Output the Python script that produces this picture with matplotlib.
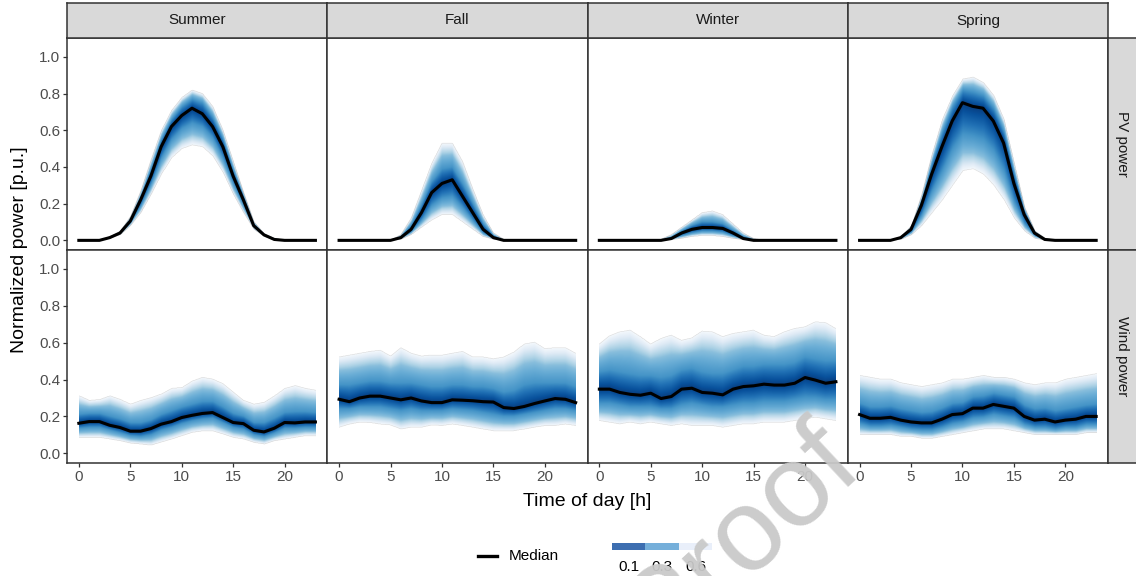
import matplotlib
matplotlib.use("Agg")
import matplotlib.pyplot as plt
import numpy as np

plt.rcParams['font.family'] = ['Liberation Sans', 'DejaVu Sans']

hours = list(range(24))
seasons = ["Summer", "Fall", "Winter", "Spring"]
rows = ["PV power", "Wind power"]
y_ticks = [0.0, 0.2, 0.4, 0.6, 0.8, 1.0]
x_ticks = [0, 5, 10, 15, 20]
legend_levels = ["0.1", "0.3", "0.6"]
quantile_levels = [0.05, 0.25, 0.5, 0.75, 0.95]

# ---------------- PV power ----------------
pv_summer_med = [0, 0, 0, 0.015, 0.04, 0.105, 0.22, 0.35, 0.51, 0.62, 0.68, 0.72, 0.69, 0.62, 0.51, 0.35, 0.22, 0.08, 0.03, 0.005, 0, 0, 0, 0]
pv_summer_hi = [0, 0, 0, 0.02, 0.05, 0.13, 0.27, 0.44, 0.60, 0.71, 0.78, 0.82, 0.80, 0.73, 0.60, 0.43, 0.26, 0.10, 0.035, 0.01, 0, 0, 0, 0]
pv_summer_q75 = [0, 0, 0, 0.017, 0.045, 0.115, 0.24, 0.39, 0.55, 0.66, 0.73, 0.77, 0.75, 0.67, 0.55, 0.38, 0.24, 0.09, 0.032, 0.007, 0, 0, 0, 0]
pv_summer_q25 = [0, 0, 0, 0.013, 0.035, 0.095, 0.19, 0.31, 0.45, 0.55, 0.61, 0.64, 0.62, 0.56, 0.45, 0.31, 0.19, 0.07, 0.025, 0.003, 0, 0, 0, 0]
pv_summer_lo = [0, 0, 0, 0.01, 0.03, 0.08, 0.15, 0.25, 0.36, 0.45, 0.50, 0.52, 0.51, 0.46, 0.37, 0.25, 0.15, 0.06, 0.02, 0, 0, 0, 0, 0]

pv_fall_med = [0, 0, 0, 0, 0, 0, 0.015, 0.06, 0.15, 0.26, 0.31, 0.33, 0.24, 0.15, 0.06, 0.015, 0, 0, 0, 0, 0, 0, 0, 0]
pv_fall_hi = [0, 0, 0, 0, 0, 0, 0.03, 0.12, 0.27, 0.42, 0.53, 0.53, 0.43, 0.28, 0.14, 0.04, 0.005, 0, 0, 0, 0, 0, 0, 0]
pv_fall_q75 = [0, 0, 0, 0, 0, 0, 0.02, 0.08, 0.19, 0.32, 0.39, 0.40, 0.31, 0.20, 0.09, 0.025, 0, 0, 0, 0, 0, 0, 0, 0]
pv_fall_q25 = [0, 0, 0, 0, 0, 0, 0.01, 0.045, 0.11, 0.19, 0.23, 0.24, 0.18, 0.11, 0.04, 0.01, 0, 0, 0, 0, 0, 0, 0, 0]
pv_fall_lo = [0, 0, 0, 0, 0, 0, 0.005, 0.03, 0.07, 0.11, 0.14, 0.14, 0.10, 0.06, 0.02, 0.005, 0, 0, 0, 0, 0, 0, 0, 0]

pv_winter_med = [0, 0, 0, 0, 0, 0, 0, 0.01, 0.04, 0.06, 0.07, 0.07, 0.065, 0.04, 0.01, 0, 0, 0, 0, 0, 0, 0, 0, 0]
pv_winter_hi = [0, 0, 0, 0, 0, 0, 0.005, 0.03, 0.07, 0.11, 0.15, 0.16, 0.14, 0.09, 0.04, 0.01, 0, 0, 0, 0, 0, 0, 0, 0]
pv_winter_q75 = [0, 0, 0, 0, 0, 0, 0.002, 0.015, 0.05, 0.08, 0.10, 0.10, 0.09, 0.055, 0.02, 0.003, 0, 0, 0, 0, 0, 0, 0, 0]
pv_winter_q25 = [0, 0, 0, 0, 0, 0, 0, 0.006, 0.025, 0.04, 0.05, 0.05, 0.045, 0.025, 0.006, 0, 0, 0, 0, 0, 0, 0, 0, 0]
pv_winter_lo = [0, 0, 0, 0, 0, 0, 0, 0.003, 0.01, 0.02, 0.025, 0.025, 0.02, 0.01, 0.003, 0, 0, 0, 0, 0, 0, 0, 0, 0]

pv_spring_med = [0, 0, 0, 0, 0.015, 0.06, 0.19, 0.36, 0.51, 0.65, 0.75, 0.73, 0.72, 0.65, 0.53, 0.31, 0.14, 0.04, 0.005, 0, 0, 0, 0, 0]
pv_spring_hi = [0, 0, 0, 0, 0.02, 0.08, 0.25, 0.47, 0.66, 0.79, 0.88, 0.89, 0.86, 0.79, 0.66, 0.42, 0.18, 0.05, 0.01, 0, 0, 0, 0, 0]
pv_spring_q75 = [0, 0, 0, 0, 0.017, 0.07, 0.22, 0.42, 0.59, 0.73, 0.82, 0.81, 0.79, 0.72, 0.59, 0.36, 0.16, 0.045, 0.007, 0, 0, 0, 0, 0]
pv_spring_q25 = [0, 0, 0, 0, 0.01, 0.045, 0.14, 0.27, 0.38, 0.50, 0.58, 0.57, 0.55, 0.49, 0.38, 0.21, 0.09, 0.025, 0.003, 0, 0, 0, 0, 0]
pv_spring_lo = [0, 0, 0, 0, 0.005, 0.03, 0.08, 0.15, 0.22, 0.30, 0.38, 0.39, 0.36, 0.30, 0.22, 0.12, 0.05, 0.01, 0, 0, 0, 0, 0, 0]

# ---------------- Wind power ----------------
wind_summer_med = [0.163, 0.172, 0.172, 0.152, 0.14, 0.12, 0.12, 0.134, 0.158, 0.172, 0.194, 0.206, 0.216, 0.221, 0.194, 0.167, 0.161, 0.125, 0.116, 0.136, 0.167, 0.165, 0.17, 0.17]
wind_summer_hi = [0.31, 0.285, 0.29, 0.31, 0.29, 0.265, 0.285, 0.30, 0.32, 0.35, 0.355, 0.39, 0.41, 0.40, 0.375, 0.33, 0.285, 0.265, 0.275, 0.31, 0.35, 0.365, 0.35, 0.34]
wind_summer_q75 = [0.21, 0.215, 0.215, 0.20, 0.185, 0.165, 0.165, 0.18, 0.21, 0.23, 0.25, 0.265, 0.28, 0.28, 0.25, 0.215, 0.20, 0.165, 0.165, 0.19, 0.22, 0.225, 0.225, 0.22]
wind_summer_q25 = [0.135, 0.14, 0.14, 0.125, 0.11, 0.095, 0.09, 0.10, 0.125, 0.14, 0.16, 0.175, 0.185, 0.19, 0.165, 0.14, 0.13, 0.10, 0.09, 0.11, 0.135, 0.135, 0.14, 0.14]
wind_summer_lo = [0.085, 0.085, 0.085, 0.076, 0.067, 0.054, 0.049, 0.043, 0.06, 0.076, 0.094, 0.112, 0.12, 0.12, 0.103, 0.085, 0.076, 0.058, 0.049, 0.067, 0.076, 0.085, 0.094, 0.094]

wind_fall_med = [0.293, 0.28, 0.30, 0.31, 0.31, 0.30, 0.29, 0.30, 0.284, 0.275, 0.275, 0.29, 0.288, 0.285, 0.28, 0.278, 0.248, 0.243, 0.254, 0.27, 0.284, 0.297, 0.293, 0.275]
wind_fall_hi = [0.52, 0.53, 0.54, 0.55, 0.556, 0.525, 0.57, 0.54, 0.525, 0.53, 0.53, 0.54, 0.55, 0.52, 0.52, 0.51, 0.52, 0.547, 0.59, 0.60, 0.565, 0.57, 0.57, 0.54]
wind_fall_q75 = [0.37, 0.37, 0.38, 0.39, 0.39, 0.38, 0.38, 0.38, 0.37, 0.36, 0.36, 0.37, 0.37, 0.36, 0.36, 0.35, 0.33, 0.34, 0.37, 0.38, 0.38, 0.38, 0.38, 0.36]
wind_fall_q25 = [0.24, 0.24, 0.25, 0.25, 0.25, 0.24, 0.23, 0.24, 0.23, 0.23, 0.23, 0.24, 0.235, 0.23, 0.22, 0.21, 0.20, 0.20, 0.21, 0.22, 0.23, 0.24, 0.24, 0.23]
wind_fall_lo = [0.14, 0.157, 0.167, 0.165, 0.157, 0.152, 0.13, 0.14, 0.14, 0.152, 0.149, 0.157, 0.149, 0.14, 0.13, 0.121, 0.121, 0.121, 0.13, 0.14, 0.149, 0.149, 0.157, 0.149]

wind_winter_med = [0.348, 0.348, 0.33, 0.32, 0.315, 0.326, 0.297, 0.308, 0.348, 0.353, 0.33, 0.326, 0.317, 0.348, 0.362, 0.366, 0.375, 0.37, 0.37, 0.38, 0.411, 0.397, 0.38, 0.388]
wind_winter_hi = [0.59, 0.634, 0.656, 0.665, 0.63, 0.59, 0.62, 0.638, 0.61, 0.623, 0.66, 0.656, 0.63, 0.647, 0.656, 0.665, 0.638, 0.63, 0.656, 0.674, 0.683, 0.71, 0.706, 0.674]
wind_winter_q75 = [0.44, 0.45, 0.44, 0.43, 0.42, 0.42, 0.41, 0.42, 0.45, 0.46, 0.44, 0.43, 0.43, 0.45, 0.47, 0.47, 0.48, 0.48, 0.48, 0.49, 0.52, 0.51, 0.50, 0.50]
wind_winter_q25 = [0.27, 0.27, 0.26, 0.25, 0.25, 0.25, 0.24, 0.24, 0.26, 0.27, 0.26, 0.25, 0.25, 0.26, 0.27, 0.27, 0.28, 0.28, 0.28, 0.29, 0.30, 0.30, 0.29, 0.29]
wind_winter_lo = [0.176, 0.167, 0.158, 0.167, 0.158, 0.167, 0.158, 0.149, 0.158, 0.149, 0.149, 0.149, 0.14, 0.149, 0.158, 0.158, 0.167, 0.167, 0.167, 0.176, 0.185, 0.194, 0.185, 0.176]

wind_spring_med = [0.21, 0.19, 0.19, 0.195, 0.18, 0.17, 0.165, 0.165, 0.185, 0.21, 0.215, 0.245, 0.245, 0.265, 0.255, 0.245, 0.20, 0.18, 0.185, 0.17, 0.18, 0.185, 0.20, 0.20]
wind_spring_hi = [0.42, 0.41, 0.40, 0.40, 0.38, 0.37, 0.36, 0.37, 0.38, 0.40, 0.40, 0.41, 0.42, 0.41, 0.41, 0.40, 0.38, 0.37, 0.38, 0.38, 0.40, 0.41, 0.42, 0.43]
wind_spring_q75 = [0.27, 0.25, 0.25, 0.255, 0.24, 0.23, 0.22, 0.225, 0.245, 0.27, 0.275, 0.305, 0.31, 0.325, 0.315, 0.305, 0.26, 0.24, 0.245, 0.23, 0.24, 0.25, 0.26, 0.265]
wind_spring_q25 = [0.16, 0.145, 0.145, 0.15, 0.14, 0.13, 0.125, 0.125, 0.14, 0.16, 0.17, 0.19, 0.195, 0.21, 0.20, 0.19, 0.155, 0.14, 0.14, 0.13, 0.14, 0.14, 0.155, 0.155]
wind_spring_lo = [0.10, 0.10, 0.10, 0.10, 0.09, 0.09, 0.08, 0.08, 0.09, 0.10, 0.11, 0.12, 0.13, 0.13, 0.13, 0.12, 0.11, 0.10, 0.10, 0.10, 0.10, 0.10, 0.11, 0.11]

panels = {
    (0, 0): (pv_summer_lo, pv_summer_q25, pv_summer_med, pv_summer_q75, pv_summer_hi),
    (0, 1): (pv_fall_lo, pv_fall_q25, pv_fall_med, pv_fall_q75, pv_fall_hi),
    (0, 2): (pv_winter_lo, pv_winter_q25, pv_winter_med, pv_winter_q75, pv_winter_hi),
    (0, 3): (pv_spring_lo, pv_spring_q25, pv_spring_med, pv_spring_q75, pv_spring_hi),
    (1, 0): (wind_summer_lo, wind_summer_q25, wind_summer_med, wind_summer_q75, wind_summer_hi),
    (1, 1): (wind_fall_lo, wind_fall_q25, wind_fall_med, wind_fall_q75, wind_fall_hi),
    (1, 2): (wind_winter_lo, wind_winter_q25, wind_winter_med, wind_winter_q75, wind_winter_hi),
    (1, 3): (wind_spring_lo, wind_spring_q25, wind_spring_med, wind_spring_q75, wind_spring_hi),
}

W, H = 1136, 576
fig = plt.figure(figsize=(W / 100, H / 100), dpi=100)
edge = '#333333'

col_left = [67, 327.25, 587.5, 847.75]
col_w = 260.25
row_top = [38, 250]
row_bot = [250, 463]

XLIM = (-1.15, 24.15)
YLIM = (-0.0525, 1.1025)
cmap = plt.get_cmap('Blues')


def draw_fan(ax, quants):
    """Shade each pixel by its position in the distribution given by the quantile curves."""
    Q = np.array(quants, dtype=float)           # 5 x 24
    nx, ny = 470, 520
    xs = np.linspace(hours[0], hours[-1], nx)
    ys = np.linspace(YLIM[0], YLIM[1], ny)
    Qx = np.array([np.interp(xs, hours, q) for q in Q])
    img = np.zeros((ny, nx, 4))
    for j in range(nx):
        col = Qx[:, j]
        if col[-1] - col[0] < 1e-6:
            continue
        p = np.interp(ys, col, quantile_levels, left=np.nan, right=np.nan)
        inside = ~np.isnan(p)
        inten = np.clip(1 - np.abs(p[inside] - 0.5) / 0.45, 0, 1)
        rgba = cmap(0.08 + 0.87 * inten ** 0.6)
        img[inside, j, :] = rgba
        img[inside, j, 3] = np.clip(0.35 + 3 * inten, 0, 1)
    ax.imshow(img, extent=[xs[0], xs[-1], YLIM[0], YLIM[1]], origin='lower',
              aspect='auto', interpolation='bilinear', zorder=1)


for (r, c), quants in panels.items():
    lo, q25, med, q75, hi = quants
    ax = fig.add_axes([col_left[c] / W, 1 - row_bot[r] / H, col_w / W, (row_bot[r] - row_top[r]) / H])
    draw_fan(ax, quants)
    ax.plot(hours, med, color='black', lw=2.2, zorder=5)
    ax.set_xlim(*XLIM)
    ax.set_ylim(*YLIM)
    ax.set_xticks(x_ticks)
    ax.set_yticks(y_ticks)
    ax.set_yticklabels([f"{t:.1f}" for t in y_ticks])
    ax.tick_params(length=3, width=0.9, color=edge, labelcolor='#4d4d4d', labelsize=11, pad=2)
    if c != 0:
        ax.tick_params(axis='y', left=False, labelleft=False)
    if r != 1:
        ax.tick_params(axis='x', bottom=False, labelbottom=False)
    for s in ax.spines.values():
        s.set_color(edge)
        s.set_linewidth(1.1)
    ax.set_facecolor('white')

# top strips
for c, name in enumerate(seasons):
    sax = fig.add_axes([col_left[c] / W, 1 - 38 / H, col_w / W, 35 / H])
    sax.set_facecolor('#d9d9d9')
    sax.set_xticks([]); sax.set_yticks([])
    for s in sax.spines.values():
        s.set_color(edge); s.set_linewidth(1.1)
    sax.text(0.5, 0.5, name, ha='center', va='center', fontsize=11, color='#1a1a1a', transform=sax.transAxes)

# right strips
for r, name in enumerate(rows):
    sax = fig.add_axes([1108 / W, 1 - row_bot[r] / H, 30 / W, (row_bot[r] - row_top[r]) / H])
    sax.set_facecolor('#d9d9d9')
    sax.set_xticks([]); sax.set_yticks([])
    for s in sax.spines.values():
        s.set_color(edge); s.set_linewidth(1.1)
    sax.text(14 / 30, 0.5, name, ha='center', va='center', fontsize=11, color='#1a1a1a',
             rotation=-90, transform=sax.transAxes)

# axis titles
fig.text(20 / W, 1 - 250 / H, "Normalized power [p.u.]", rotation=90, ha='center', va='center', fontsize=14, color='black')
fig.text(587 / W, 1 - 502 / H, "Time of day [h]", ha='center', va='center', fontsize=14, color='black')

# legend
lax = fig.add_axes([0, 0, 1, 1], facecolor='none')
lax.set_xlim(0, W); lax.set_ylim(H, 0)
lax.axis('off')
lax.plot([478, 497], [556, 556], color='black', lw=2.4)
lax.text(509, 556, "Median", ha='left', va='center', fontsize=11, color='black')
leg_colors = ['#3d6eb0', '#75afda', '#e9effa']
for i, (lab, col) in enumerate(zip(legend_levels, leg_colors)):
    x0 = 612 + i * 33.4
    lax.add_patch(plt.Rectangle((x0, 543), 33.4, 7, color=col, lw=0))
    lax.text(x0 + 16.7, 567, lab, ha='center', va='center', fontsize=11, color='black')

# watermark (partly outside the figure, as in the original)
lax.text(660, 655, "Proof", rotation=43, ha='left', va='baseline', fontsize=84,
         color='#c9c9c9', alpha=0.95, zorder=20, rotation_mode='anchor')

fig.savefig("out.png", dpi=100)
